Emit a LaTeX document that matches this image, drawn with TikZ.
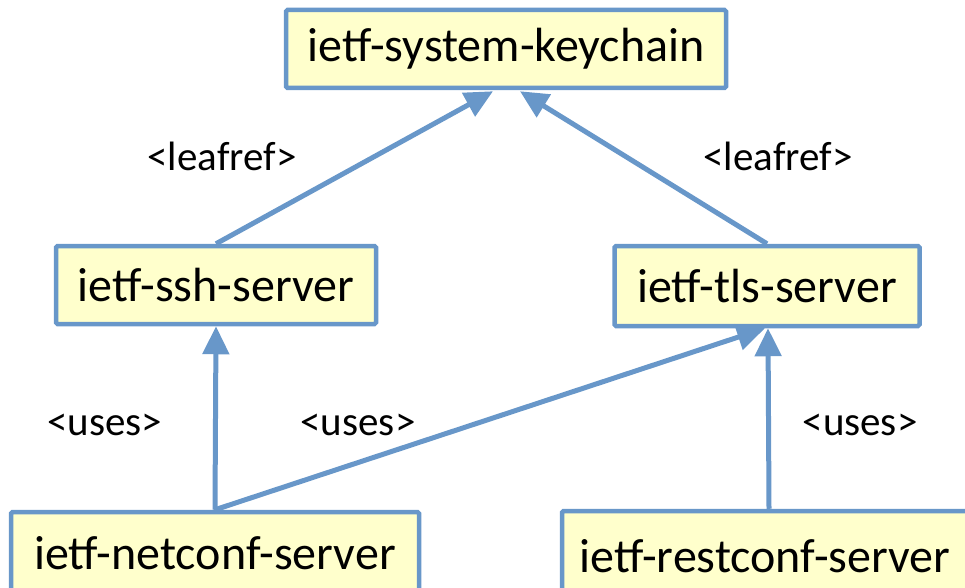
\documentclass[tikz,border=0pt]{standalone}
\usepackage{fontspec}
\setmainfont{Carlito}
\usetikzlibrary{arrows.meta}
\definecolor{boxfill}{HTML}{FFFFCC}
\definecolor{boxline}{HTML}{6897C9}
\begin{document}
\begin{tikzpicture}[x=1pt,y=-1pt,
  module/.style={draw=boxline, fill=boxfill, line width=4.5pt, rounded corners=1.5pt,
    inner sep=0pt, font=\fontsize{48}{54}\selectfont, text=black},
  conn/.style={draw=boxline, line width=5pt,
    -{Triangle[length=28pt,width=26pt]}},
  tag/.style={font=\fontsize{41}{46}\selectfont, text=black, anchor=base}]
  \useasboundingbox (0,0) rectangle (965,588);
  \clip (0,0) rectangle (965,588);

  % modules
  \node[module, minimum width=440pt, minimum height=78pt] (key) at (506,49) {ietf-system-keychain};
  \node[module, minimum width=320pt, minimum height=78pt] (ssh) at (216,285) {ietf-ssh-server};
  \node[module, minimum width=305pt, minimum height=80pt] (tls) at (767,286) {ietf-tls-server};
  \node[module, minimum width=408pt, minimum height=100pt] (netconf) at (215,562) {};
  \node[module, minimum width=406pt, minimum height=100pt] (restconf) at (765,561) {};
  \node[font=\fontsize{48}{54}\selectfont] (netconftext) at (215,553) {ietf-netconf-server};
  \node[font=\fontsize{48}{54}\selectfont] (restconftext) at (765,556) {ietf-restconf-server};

  % relations
  \coordinate (keyL) at ([xshift=-13pt,yshift=-1pt]key.south);
  \coordinate (keyR) at ([xshift=14pt,yshift=-1pt]key.south);
  \draw[conn] (ssh.north) -- (keyL);
  \draw[conn] (tls.north) -- (keyR);
  \draw[conn] (netconf.north) -- (ssh.south);
  \draw[conn] (netconf.north) -- ([xshift=-2pt]tls.south);
  \draw[conn] ([xshift=4pt]restconf.north) -- ([xshift=1pt]tls.south);

  % labels (placed by baseline)
  \node[tag] (lr1) at (222,171) {<leafref>};
  \node[tag] (lr2) at (778,171) {<leafref>};
  \node[tag] (us1) at (105,435) {<uses>};
  \node[tag] (us2) at (358,435) {<uses>};
  \node[tag] (us3) at (860,435) {<uses>};
\end{tikzpicture}
\end{document}
